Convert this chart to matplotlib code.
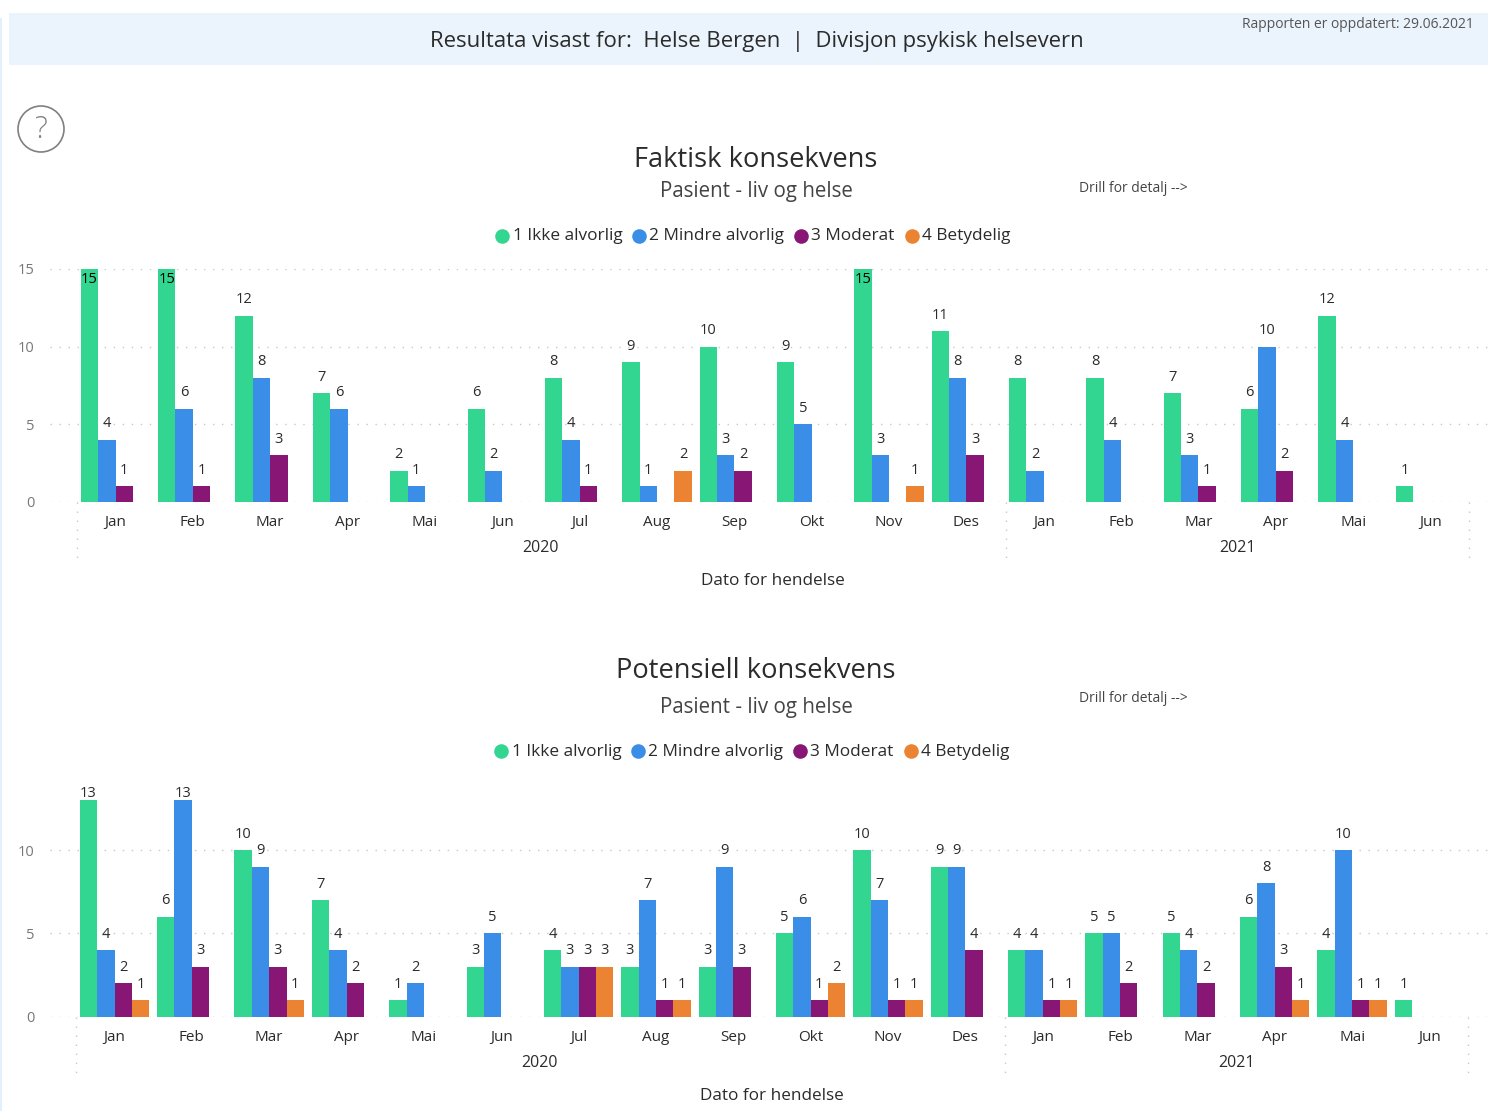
import numpy as np
import matplotlib
matplotlib.use("Agg")
import matplotlib.pyplot as plt
from matplotlib.patches import Rectangle, Circle

months = ["Jan", "Feb", "Mar", "Apr", "Mai", "Jun", "Jul", "Aug", "Sep", "Okt", "Nov", "Des",
          "Jan", "Feb", "Mar", "Apr", "Mai", "Jun"]
series_names = ["1 Ikke alvorlig", "2 Mindre alvorlig", "3 Moderat", "4 Betydelig"]
colors = ["#33D690", "#3B8EE8", "#871674", "#EC8332"]

# faktisk konsekvens, 0 = no bar
f_ikke = [15, 15, 12, 7, 2, 6, 8, 9, 10, 9, 15, 11, 8, 8, 7, 6, 12, 1]
f_mindre = [4, 6, 8, 6, 1, 2, 4, 1, 3, 5, 3, 8, 2, 4, 3, 10, 4, 0]
f_moderat = [1, 1, 3, 0, 0, 0, 1, 0, 2, 0, 0, 3, 0, 0, 1, 2, 0, 0]
f_betydelig = [0, 0, 0, 0, 0, 0, 0, 2, 0, 0, 1, 0, 0, 0, 0, 0, 0, 0]

# potensiell konsekvens
p_ikke = [13, 6, 10, 7, 1, 3, 4, 3, 3, 5, 10, 9, 4, 5, 5, 6, 4, 1]
p_mindre = [4, 13, 9, 4, 2, 5, 3, 7, 9, 6, 7, 9, 4, 5, 4, 8, 10, 0]
p_moderat = [2, 3, 3, 2, 0, 0, 3, 1, 3, 1, 1, 4, 1, 2, 2, 3, 1, 0]
p_betydelig = [1, 0, 1, 0, 0, 0, 3, 1, 0, 2, 1, 0, 1, 0, 0, 1, 1, 0]

W, H = 1488, 1111
plt.rcParams["font.family"] = ["Open Sans", "DejaVu Sans"]
TXT = "#2B2B2B"
GRID = "#C8C8C8"
DOTS = (0, (1, 5.5))

fig = plt.figure(figsize=(W / 100, H / 100), dpi=100)

# overlay in pixel coordinates for the report furniture
bg = fig.add_axes([0, 0, 1, 1])
bg.set_xlim(0, W)
bg.set_ylim(H, 0)
bg.axis("off")
bg.add_patch(Rectangle((9, 13), W - 9, 52, fc="#EBF4FC", ec="none"))
bg.add_patch(Rectangle((0, 18), 1.5, H - 18, fc="#E3F0FB", ec="none"))
bg.add_patch(Circle((41, 129), 23, fc="white", ec="#808080", lw=1.2))
bg.text(41, 130, "?", ha="center", va="center", fontsize=22, color="#808080", fontweight="light")
bg.text(757, 41, "Resultata visast for:  Helse Bergen  |  Divisjon psykisk helsevern",
        ha="center", va="center", fontsize=15.9, color=TXT)
bg.text(1474, 25, "Rapporten er oppdatert: 29.06.2021", ha="right", va="center", fontsize=10, color="#555555")


def chart(rect_px, xlim, ylim, yticks, data, title, title_y, sub_y, drill_y, leg_y, leg_dx,
          year_y, xlabel_y, vx, v_y):
    left, top, right, bottom = rect_px
    ax = fig.add_axes([left / W, 1 - bottom / H, (right - left) / W, (bottom - top) / H])
    ax.patch.set_alpha(0)
    x = np.arange(len(months))
    bw = 0.2245
    top_val = max(max(vals) for vals in data)
    for k, vals in enumerate(data):
        pos = x + (k - 1.5) * bw
        ax.bar(pos, vals, bw, color=colors[k], zorder=3)
        for px, v in zip(pos, vals):
            if v == 0:
                continue
            if v >= ylim[1]:
                # no room above the plot, label goes inside the bar
                ax.annotate(str(v), (px, v), xytext=(0, -2), textcoords="offset points",
                            ha="center", va="top", fontsize=10.5, color="black", zorder=5)
            else:
                # tallest bars get their label squeezed against the bar
                dy = -0.5 if v == top_val else 6
                ax.annotate(str(v), (px, v), xytext=(0, dy), textcoords="offset points",
                            ha="center", va="bottom", fontsize=10.5, color=TXT, zorder=5)
    ax.set_xlim(*xlim)
    ax.set_ylim(*ylim)
    ax.set_yticks(yticks)
    ax.set_xticks(x)
    ax.set_xticklabels(months, fontsize=11, color=TXT)
    ax.tick_params(length=0)
    ax.tick_params(axis="x", pad=10)
    ax.tick_params(axis="y", pad=11, labelcolor="#777777", labelsize=10.5)
    ax.grid(axis="y", color=GRID, lw=1, ls=DOTS, zorder=0)
    for s in ax.spines.values():
        s.set_visible(False)

    for vxi in vx:
        bg.plot([vxi, vxi], v_y, color=GRID, lw=1, ls=DOTS)

    bg.text(756, title_y, title, ha="center", va="center", fontsize=19.6, color=TXT)
    bg.text(756, sub_y, "Pasient - liv og helse", ha="center", va="center", fontsize=14.8, color="#444444")
    bg.text(1133, drill_y, "Drill for detalj -->", ha="center", va="center", fontsize=10, color="#444444")
    for mx, tx, name, c in zip([502, 639, 801, 912], [513, 649, 811, 922], series_names, colors):
        bg.plot([mx + leg_dx], [leg_y], "o", ms=10.5, color=c, mec="none")
        bg.text(tx + leg_dx, leg_y + 1, name, ha="left", va="center", fontsize=12.4, color=TXT)
    bg.text((vx[0] + vx[1]) / 2 - 1, year_y, "2020", ha="center", va="center", fontsize=11.5, color=TXT)
    bg.text((vx[1] + vx[2]) / 2, year_y, "2021", ha="center", va="center", fontsize=11.5, color=TXT)
    bg.text(773 + leg_dx, xlabel_y, "Dato for hendelse", ha="center", va="center", fontsize=12.3, color=TXT)
    return ax


chart((50, 269, 1488, 501.5), (-0.847, 17.744), (0, 15), [0, 5, 10, 15],
      [f_ikke, f_mindre, f_moderat, f_betydelig], "Faktisk konsekvens",
      160, 192, 189, 235.5, 0, 548, 581, [77, 1006, 1469], [502, 560])
chart((50, 783.4, 1488, 1016.5), (-0.834, 17.757), (0, 14), [0, 5, 10],
      [p_ikke, p_mindre, p_moderat, p_betydelig], "Potensiell konsekvens",
      671, 707, 699, 750.5, -1, 1063, 1096, [76, 1005, 1468], [1017, 1075])

fig.savefig("out.png", dpi=100)
